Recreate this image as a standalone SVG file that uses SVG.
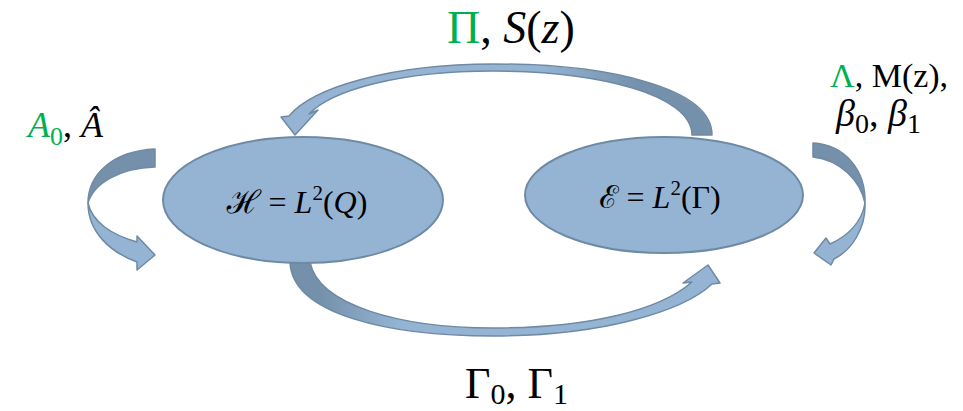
<svg xmlns="http://www.w3.org/2000/svg" width="963" height="411" viewBox="0 0 963 411">
<style>
.node{fill:#95B3D3;stroke:#6E8AA4;stroke-width:2}
.arr{stroke:#6E8AA4;stroke-width:1.5;stroke-linejoin:round}
.dark{fill:#7590AA}
.light{fill:#95B4D4}
.t{font-family:"Liberation Serif","DejaVu Serif",serif;fill:#000}
.i{font-style:italic}
.g{fill:#00B050}
.sc{font-family:"DejaVu Serif","Noto Sans",serif;font-style:italic}
</style>
<defs>
<linearGradient id="gTop" gradientUnits="userSpaceOnUse" x1="540" y1="0" x2="640" y2="0">
<stop offset="0" stop-color="#95B4D4"/><stop offset="1" stop-color="#7590AA"/>
</linearGradient>
<linearGradient id="gBot" gradientUnits="userSpaceOnUse" x1="320" y1="0" x2="400" y2="0">
<stop offset="0" stop-color="#7590AA"/><stop offset="1" stop-color="#95B4D4"/>
</linearGradient>
</defs>
<g id="connectors">
<path class="arr" fill="url(#gTop)" d="M712,135 C712,88 610,64 493,64 C390,64 312,88 289,116 L281,117 L295,135 L318,110 L309,114 C332,90 400,71 493,71 C600,71 692,95 692,135 Z"/>
<path class="arr" fill="url(#gBot)" d="M290,262 C292,315 390,336 493,336 C600,336 682,312 712,284 L720,283 L708,265 L683,283 L692,282 C660,310 590,328 493,328 C400,328 318,305 310,262 Z"/>
<path class="arr dark" d="M155,149 C112,151 88,175 88,203 C94,183 120,168 155,167 Z"/>
<path class="arr light" d="M88,203 C88,232 110,252 137,262 L137,270 L155,255 L137,236 L137,242 C112,235 92,222 88,203 Z"/>
<path class="arr dark" d="M813,143 C845,145 866,170 865,203 C860,180 840,160 813,157 Z"/>
<path class="arr light" d="M865,203 C866,228 852,250 834,259 L831,265 L814,253 L826,238 L830,244 C848,236 862,222 865,203 Z"/>
</g>
<g id="node-H">
<ellipse class="node" cx="303" cy="200" rx="140" ry="63"/>
<text class="t" x="297" y="213" font-size="32" text-anchor="middle"><tspan class="sc">ℋ</tspan> = <tspan class="i">L</tspan><tspan font-size="21" dy="-13">2</tspan><tspan dy="13">(</tspan><tspan class="i">Q</tspan>)</text>
</g>
<g id="node-E">
<ellipse class="node" cx="664" cy="195" rx="139" ry="58"/>
<text class="t" x="660" y="208" font-size="32" text-anchor="middle"><tspan class="sc">ℰ</tspan> = <tspan class="i">L</tspan><tspan font-size="21" dy="-13">2</tspan><tspan dy="13">(Γ)</tspan></text>
</g>
<g id="labels">
<text class="t" x="447" y="43" font-size="46"><tspan class="g">Π</tspan>, <tspan class="i">S</tspan>(<tspan class="i">z</tspan>)</text>
<text class="t" x="465" y="398" font-size="44">Γ<tspan font-size="30" dy="6">0</tspan><tspan dy="-6">, Γ</tspan><tspan font-size="30" dy="6">1</tspan></text>
<text class="t" x="28" y="137" font-size="36"><tspan class="g i">A</tspan><tspan class="g" font-size="26" dy="8">0</tspan><tspan dy="-8">, </tspan><tspan class="i">Â</tspan></text>
<text class="t" x="830" y="87" font-size="34"><tspan class="g">Λ</tspan>, M(z),</text>
<text class="t" x="836" y="126" font-size="38"><tspan class="i">β</tspan><tspan font-size="28" dy="7">0</tspan><tspan dy="-7">, </tspan><tspan class="i">β</tspan><tspan font-size="28" dy="7">1</tspan></text>
</g>
</svg>
